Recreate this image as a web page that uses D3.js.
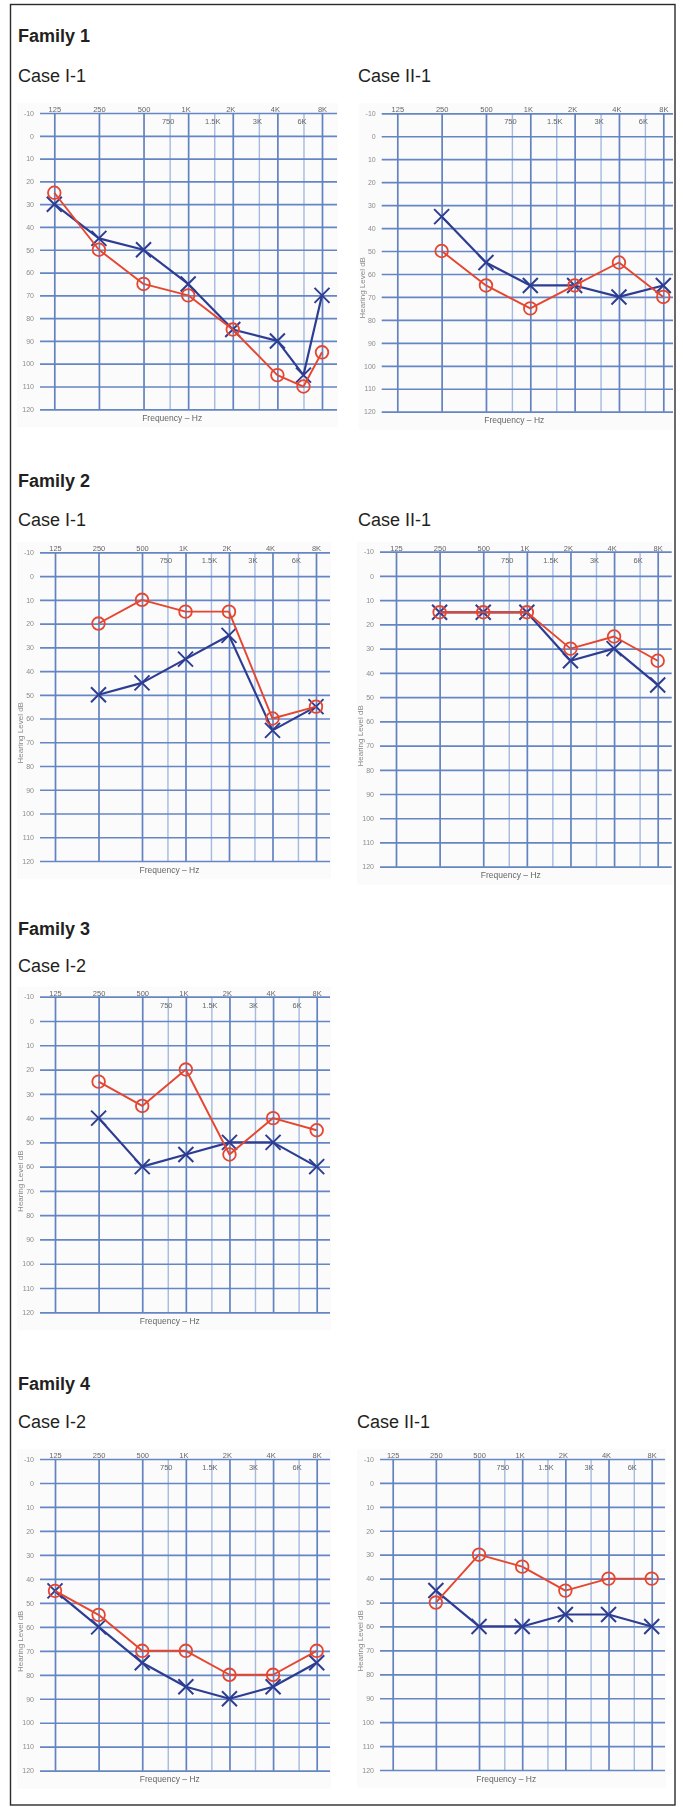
<!DOCTYPE html>
<html>
<head>
<meta charset="utf-8">
<script src="https://cdn.jsdelivr.net/npm/d3@7"></script>
<style>
  html, body { margin: 0; padding: 0; background: #fff; }
  svg { display: block; }
</style>
</head>
<body>
<svg id="fig" width="683" height="1807"></svg>
<script>
// ---- axis values ----
const levels = [-10, 0, 10, 20, 30, 40, 50, 60, 70, 80, 90, 100, 110, 120];
const majorFreqs = [125, 250, 500, 1000, 2000, 4000, 8000];
const majorLabels = ["125", "250", "500", "1K", "2K", "4K", "8K"];
const minorFreqs = [750, 1500, 3000, 6000];
const minorLabels = ["750", "1.5K", "3K", "6K"];

// ---- headings ----
const familyNames = ["Family 1", "Family 2", "Family 3", "Family 4"];
const caseNames = ["Case I-1", "Case II-1", "Case I-1", "Case II-1", "Case I-2", "Case I-2", "Case II-1"];

// ---- thresholds (dB HL): O = right ear, X = left ear ----
const f1CaseI1Freq = [125, 250, 500, 1000, 2000, 4000, 6000, 8000];
const f1CaseI1Right = [25, 50, 65, 70, 85, 105, 110, 95];
const f1CaseI1Left = [30, 45, 50, 65, 85, 90, 105, 70];

const f1CaseII1Freq = [250, 500, 1000, 2000, 4000, 8000];
const f1CaseII1Right = [50, 65, 75, 65, 55, 70];
const f1CaseII1Left = [35, 55, 65, 65, 70, 65];

const f2CaseI1Freq = [250, 500, 1000, 2000, 4000, 8000];
const f2CaseI1Right = [20, 10, 15, 15, 60, 55];
const f2CaseI1Left = [50, 45, 35, 25, 65, 55];

const f2CaseII1Freq = [250, 500, 1000, 2000, 4000, 8000];
const f2CaseII1Right = [15, 15, 15, 30, 25, 35];
const f2CaseII1Left = [15, 15, 15, 35, 30, 45];

const f3CaseI2Freq = [250, 500, 1000, 2000, 4000, 8000];
const f3CaseI2Right = [25, 35, 20, 55, 40, 45];
const f3CaseI2Left = [40, 60, 55, 50, 50, 60];

const f4CaseI2Freq = [125, 250, 500, 1000, 2000, 4000, 8000];
const f4CaseI2Right = [45, 55, 70, 70, 80, 80, 70];
const f4CaseI2Left = [45, 60, 75, 85, 90, 85, 75];

const f4CaseII1Freq = [250, 500, 1000, 2000, 4000, 8000];
const f4CaseII1Right = [50, 30, 35, 45, 40, 40];
const f4CaseII1Left = [45, 60, 60, 55, 55, 60];

const cases = [
  { freq: f1CaseI1Freq, right: f1CaseI1Right, left: f1CaseI1Left },
  { freq: f1CaseII1Freq, right: f1CaseII1Right, left: f1CaseII1Left },
  { freq: f2CaseI1Freq, right: f2CaseI1Right, left: f2CaseI1Left },
  { freq: f2CaseII1Freq, right: f2CaseII1Right, left: f2CaseII1Left },
  { freq: f3CaseI2Freq, right: f3CaseI2Right, left: f3CaseI2Left },
  { freq: f4CaseI2Freq, right: f4CaseI2Right, left: f4CaseI2Left },
  { freq: f4CaseII1Freq, right: f4CaseII1Right, left: f4CaseII1Left }
];

// ---- page layout ----
const familyY = [42, 486.7, 935, 1390];
const frames = [
  { x0: 54.3, x1: 322,   y0: 113,   y1: 409.3,  gl: 40,    gr: 337,   lx: 18,  ly: 82,    yTitle: false },
  { x0: 397.3, x1: 663.3, y0: 113.3, y1: 411.7,  gl: 381.7, gr: 673,   lx: 358, ly: 82,    yTitle: true },
  { x0: 55,   x1: 316,   y0: 552.3, y1: 861,    gl: 40,    gr: 330,   lx: 18,  ly: 526,   yTitle: true },
  { x0: 396,  x1: 657.7, y0: 551.7, y1: 866.7,  gl: 380,   gr: 671.7, lx: 358, ly: 526,   yTitle: true },
  { x0: 55,   x1: 316.7, y0: 996.7, y1: 1312.3, gl: 40,    gr: 330,   lx: 18,  ly: 971.7, yTitle: true },
  { x0: 55,   x1: 316.7, y0: 1459,  y1: 1770.7, gl: 40,    gr: 330,   lx: 18,  ly: 1428,  yTitle: true },
  { x0: 392.7, x1: 651.7, y0: 1459, y1: 1770,   gl: 380,   gr: 665,   lx: 357, ly: 1428,  yTitle: true }
];

const RED = "#e6452f";
const BLUE = "#2d3e92";
const HEAD_FONT = "'Liberation Sans', Arial, Helvetica, sans-serif";

const svg = d3.select("#fig");

const defs = svg.append("defs");
defs.append("filter").attr("id", "soft")
  .attr("x", "-5%").attr("y", "-5%").attr("width", "110%").attr("height", "110%")
  .append("feGaussianBlur").attr("stdDeviation", 0.4);

// outer frame
svg.append("rect")
  .attr("x", 10.5).attr("y", 4.5)
  .attr("width", 664.5).attr("height", 1800.5)
  .attr("fill", "none").attr("stroke", "#2b2b2b").attr("stroke-width", 1.4);

// family headings
svg.selectAll("text.family").data(familyNames).join("text")
  .attr("class", "family")
  .attr("x", 18).attr("y", (d, i) => familyY[i])
  .attr("font-family", HEAD_FONT).attr("font-weight", "bold")
  .attr("font-size", 18).attr("fill", "#231f20")
  .text(d => d);

// case headings
svg.selectAll("text.case").data(caseNames).join("text")
  .attr("class", "case")
  .attr("x", (d, i) => frames[i].lx).attr("y", (d, i) => frames[i].ly)
  .attr("font-family", HEAD_FONT)
  .attr("font-size", 18).attr("fill", "#231f20")
  .text(d => d);

function xMark(s) {
  return `M${-s},${-s}L${s},${s}M${s},${-s}L${-s},${s}`;
}

function drawAudiogram(fr, c) {
  const g = svg.append("g").attr("filter", "url(#soft)");
  const x = d3.scaleLog().base(2).domain([125, 8000]).range([fr.x0, fr.x1]);
  const y = d3.scaleLinear().domain([-10, 120]).range([fr.y0, fr.y1]);
  const h = fr.y1 - fr.y0;

  // paper backdrop of the audiogram form
  g.append("rect")
    .attr("x", fr.gl - 23).attr("y", fr.y0 - 10)
    .attr("width", fr.gr - fr.gl + 24).attr("height", h + 28)
    .attr("fill", "#fbfbfc");

  // intermediate-frequency grid lines, labels under the top line
  g.append("g")
    .attr("transform", `translate(0,${fr.y0})`)
    .call(d3.axisTop(x).tickValues(minorFreqs)
      .tickFormat((d, i) => minorLabels[i])
      .tickSize(-h).tickPadding(-11))
    .call(a => a.select(".domain").remove())
    .call(a => a.selectAll("line").attr("stroke", "#a4badf").attr("stroke-width", 1.4))
    .call(a => a.selectAll("text")
      .attr("font-family", HEAD_FONT).attr("font-size", 7.5)
      .attr("fill", "#666").attr("dx", -2));

  // hearing-level grid lines with labels
  g.append("g")
    .attr("transform", `translate(${fr.gl},0)`)
    .call(d3.axisLeft(y).tickValues(levels)
      .tickFormat(d => String(d))
      .tickSize(-(fr.gr - fr.gl)).tickPadding(6))
    .call(a => a.select(".domain").remove())
    .call(a => a.selectAll("line").attr("stroke", "#6686c3").attr("stroke-width", 1.7))
    .call(a => a.selectAll("text")
      .attr("font-family", HEAD_FONT).attr("font-size", 7)
      .attr("fill", "#8c8c8c"));

  // octave grid lines with labels above
  g.append("g")
    .attr("transform", `translate(0,${fr.y0})`)
    .call(d3.axisTop(x).tickValues(majorFreqs)
      .tickFormat((d, i) => majorLabels[i])
      .tickSize(-h).tickPadding(1))
    .call(a => a.select(".domain").remove())
    .call(a => a.selectAll("line").attr("stroke", "#6282c0").attr("stroke-width", 1.7))
    .call(a => a.selectAll("text")
      .attr("font-family", HEAD_FONT).attr("font-size", 7.5)
      .attr("fill", "#666")
      .attr("dx", d => (d >= 1000 && d < 8000) ? -2.5 : 0));

  // axis titles
  g.append("text")
    .attr("x", (fr.x0 + fr.x1) / 2 - 16).attr("y", fr.y1 + 11.5)
    .attr("text-anchor", "middle")
    .attr("font-family", HEAD_FONT).attr("font-size", 8.5)
    .attr("fill", "#666")
    .text("Frequency – Hz");

  if (fr.yTitle) {
    g.append("text")
      .attr("transform", `translate(${fr.gl - 17},${y(66)}) rotate(-90)`)
      .attr("text-anchor", "middle")
      .attr("font-family", HEAD_FONT).attr("font-size", 8)
      .attr("fill", "#8a8a8a")
      .text("Hearing Level dB");
  }

  const left = c.freq.map((f, i) => ({ f, v: c.left[i] }));
  const right = c.freq.map((f, i) => ({ f, v: c.right[i] }));
  const line = d3.line().x(d => x(d.f)).y(d => y(d.v));

  // left ear: X
  g.append("path").datum(left)
    .attr("d", line).attr("fill", "none")
    .attr("stroke", BLUE).attr("stroke-width", 2.2).attr("stroke-linejoin", "round");
  g.selectAll("path.xmark").data(left).join("path")
    .attr("class", "xmark")
    .attr("transform", d => `translate(${x(d.f)},${y(d.v)})`)
    .attr("d", xMark(7.5))
    .attr("fill", "none").attr("stroke", BLUE).attr("stroke-width", 2);

  // right ear: O
  g.append("path").datum(right)
    .attr("d", line).attr("fill", "none")
    .attr("stroke", RED).attr("stroke-width", 1.9).attr("stroke-linejoin", "round");
  g.selectAll("circle.omark").data(right).join("circle")
    .attr("class", "omark")
    .attr("cx", d => x(d.f)).attr("cy", d => y(d.v)).attr("r", 6.3)
    .attr("fill", "none").attr("stroke", RED).attr("stroke-width", 1.8);
}

frames.forEach((fr, i) => drawAudiogram(fr, cases[i]));
</script>
</body>
</html>
